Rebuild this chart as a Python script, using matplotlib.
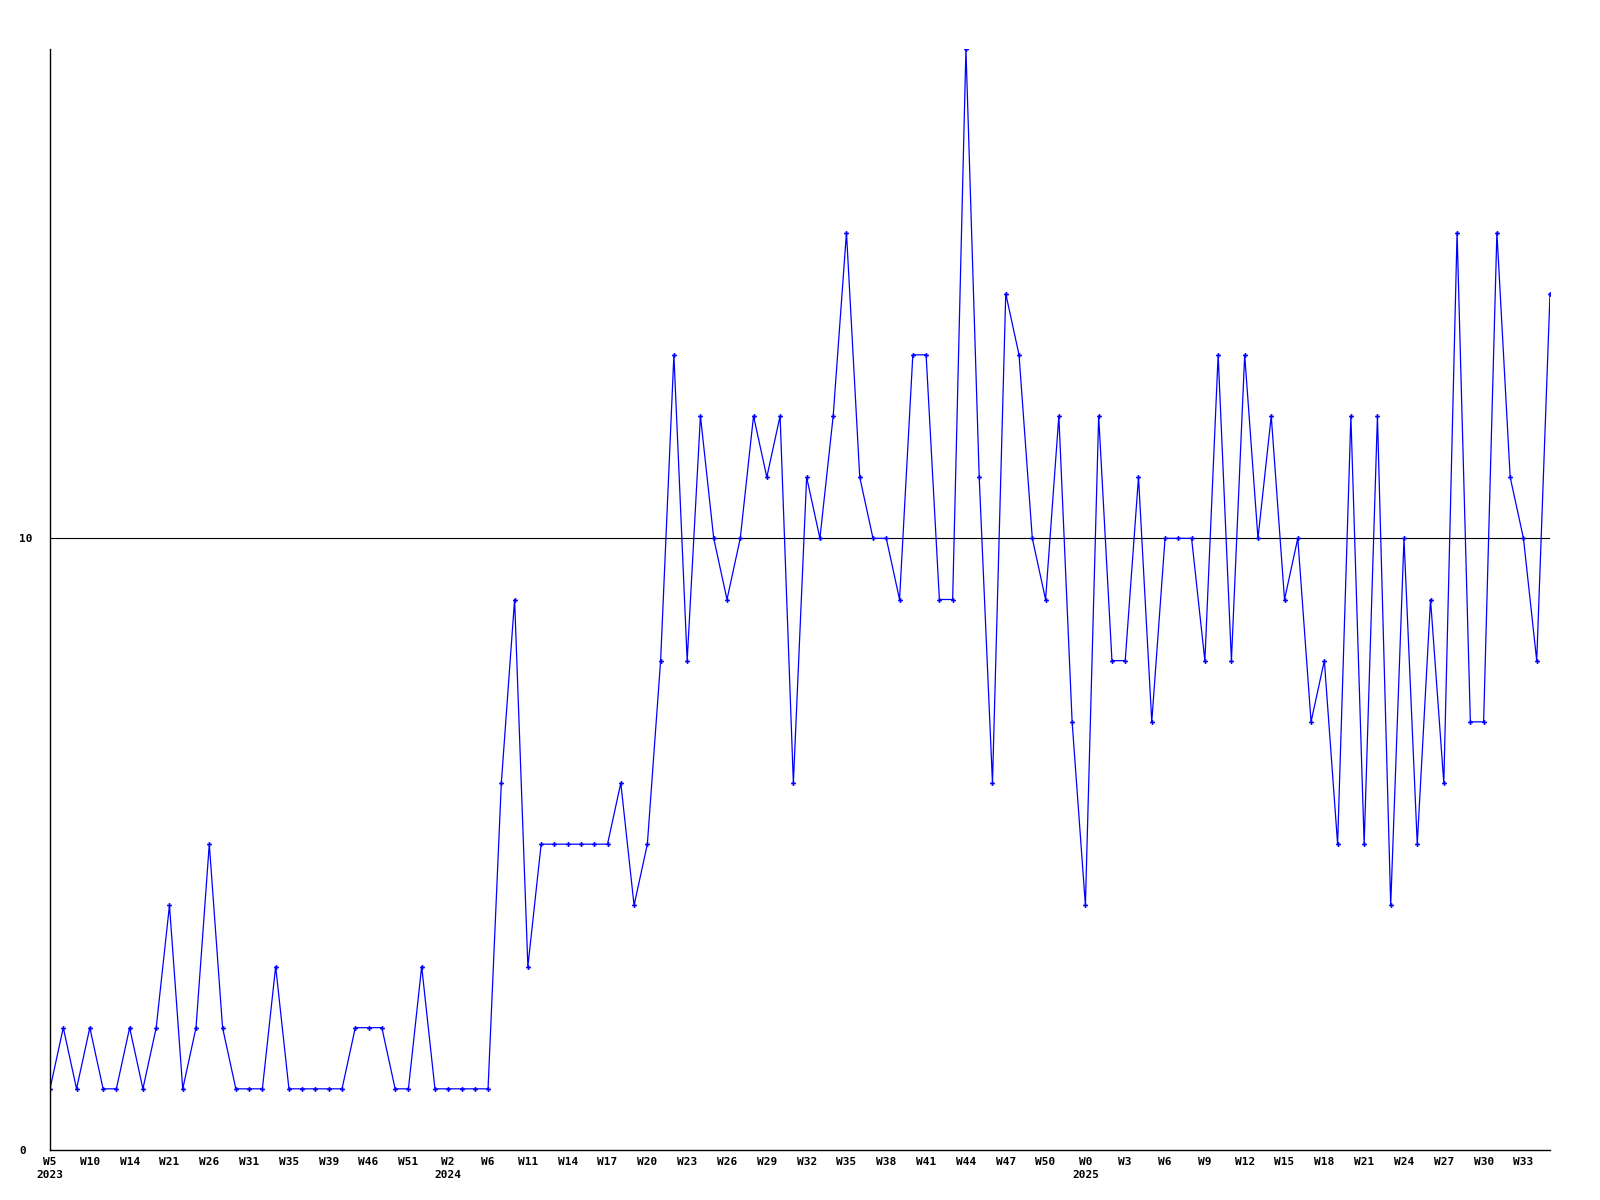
import matplotlib as mpl
import matplotlib.pyplot as plt
import numpy as np

# plotting parameters
mpl.rcParams.update({'font.family': 'DejaVu Sans Mono',
                     'font.weight': 'bold',
                     'font.size': 8})

# weekly counts, one per point
counts = [1, 2, 1, 2, 1, 1, 2, 1, 2, 4,
          1, 2, 5, 2, 1, 1, 1, 3, 1, 1,
          1, 1, 1, 2, 2, 2, 1, 1, 3, 1,
          1, 1, 1, 1, 6, 9, 3, 5, 5, 5,
          5, 5, 5, 6, 4, 5, 8, 13, 8, 12,
          10, 9, 10, 12, 11, 12, 6, 11, 10, 12,
          15, 11, 10, 10, 9, 13, 13, 9, 9, 18,
          11, 6, 14, 13, 10, 9, 12, 7, 4, 12,
          8, 8, 11, 7, 10, 10, 10, 8, 13, 8,
          13, 10, 12, 9, 10, 7, 8, 5, 12, 5,
          12, 4, 10, 5, 9, 6, 15, 7, 7, 15,
          11, 10, 8, 14]

# x labels, one every third point
week_labels = ["W5", "W10", "W14", "W21", "W26", "W31", "W35", "W39", "W46",
               "W51", "W2", "W6", "W11", "W14", "W17", "W20", "W23", "W26",
               "W29", "W32", "W35", "W38", "W41", "W44", "W47", "W50", "W0",
               "W3", "W6", "W9", "W12", "W15", "W18", "W21", "W24", "W27",
               "W30", "W33"]
year_labels = {0: "2023", 10: "2024", 26: "2025"}

y_ticks = [0, 10]
ref_level = 10

x = np.arange(len(counts))

fig = plt.figure(figsize=(16, 12), dpi=100)
ax = fig.add_axes([50 / 1600, 50 / 1200, 1500 / 1600, 1101 / 1200])

ax.axhline(ref_level, color='k', lw=0.8, zorder=1)
ax.plot(x, counts, color='#0000ff', lw=0.9, marker='P', markersize=3.5,
        markeredgewidth=0, zorder=2)

ax.set_xlim(0, len(counts) - 1)
ax.set_ylim(0, 18)

labels = [w + ("\n" + year_labels[k] if k in year_labels else "")
          for k, w in enumerate(week_labels)]
ax.set_xticks(x[::3][:len(week_labels)], labels=labels)
for t in ax.get_xticklabels():
    t.set_verticalalignment('top')
    t.set_linespacing(1.35)
ax.set_yticks(y_ticks, labels=[str(v) for v in y_ticks])
for t in ax.get_yticklabels():
    t.set_horizontalalignment('left')

ax.tick_params(axis='both', length=0)
ax.tick_params(axis='x', pad=5)
ax.tick_params(axis='y', pad=22)

ax.spines['top'].set_visible(False)
ax.spines['right'].set_visible(False)
ax.spines['left'].set_linewidth(1.0)
ax.spines['bottom'].set_linewidth(1.0)

fig.savefig('out.png', dpi=100)
